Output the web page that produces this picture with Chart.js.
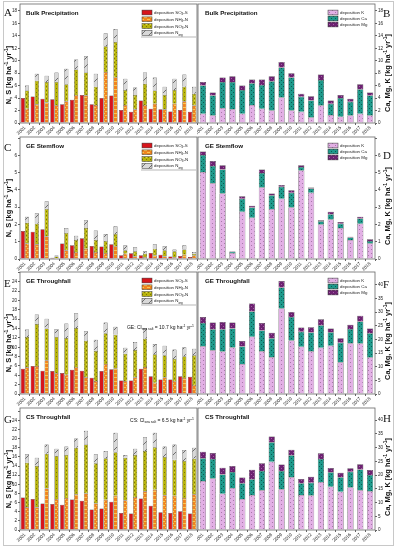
<!DOCTYPE html>
<html>
<head>
<meta charset="utf-8">
<script src="https://cdn.jsdelivr.net/npm/chart.js@4.4.1/dist/chart.umd.min.js"></script>
<style>
  body { margin: 0; background: #fff; }
  #fig { position: relative; width: 395px; height: 550px; overflow: hidden; }
  #fig canvas { position: absolute; }
  #border { position: absolute; left: 3px; top: 1px; width: 389px; height: 543px; border: 1px solid #c8c8c8; }
</style>
</head>
<body>
<div id="fig"><div id="border"></div></div>
<script>
const years = ['2001','2002','2003','2004','2005','2006','2007','2008','2009',
               '2010','2011','2012','2013','2014','2015','2016','2017','2018'];

// A - bulk precipitation, N and S
const aSO4  = [4.0, 4.25, 3.9, 3.8, 3.0, 3.75, 4.5, 3.0, 4.0, 4.4, 2.1, 1.8, 3.6, 2.3, 2.2, 1.85, 2.1, 1.8];
const aNH4  = [2.3, 3.0, 3.3, 2.9, 3.5, 4.5, 4.4, 2.9, 8.2, 7.4, 2.9, 2.2, 2.9, 3.1, 2.2, 3.1, 3.5, 2.8];
const aNO3  = [2.9, 3.8, 3.3, 3.7, 2.7, 4.1, 3.7, 2.9, 4.1, 5.6, 2.4, 2.3, 3.4, 2.1, 2.3, 2.2, 2.3, 1.9];
const aNorg = [0.8, 1.1, 1.0, 1.5, 2.5, 1.6, 2.6, 2.1, 2.1, 2.1, 1.8, 1.2, 1.8, 2.1, 1.3, 1.8, 2.0, 1.1];
// B - bulk precipitation, K Ca Mg
const bK  = [1.5, 1.2, 2.4, 2.2, 1.5, 2.9, 2.3, 2.0, 4.1, 2.0, 1.8, 0.9, 2.8, 1.3, 1.0, 1.2, 1.5, 1.2];
const bCa = [4.5, 3.2, 4.2, 4.4, 3.8, 3.5, 3.8, 4.7, 4.8, 5.3, 2.4, 2.7, 4.1, 1.8, 3.0, 2.2, 3.9, 3.2];
const bMg = [0.6, 0.5, 0.7, 0.9, 0.7, 0.6, 0.9, 0.8, 0.9, 0.7, 0.5, 0.7, 0.9, 0.5, 0.5, 0.5, 0.8, 0.5];
// C - GE stemflow, N and S
const cSO4  = [1.62, 1.58, 1.72, 0.07, 0.9, 0.8, 1.2, 0.75, 0.72, 0.85, 0.22, 0.33, 0.22, 0.35, 0.25, 0.15, 0.18, 0.12];
const cNH4  = [0.9, 0.85, 1.3, 0.05, 0.5, 0.4, 0.6, 0.4, 0.35, 0.75, 0.3, 0.15, 0.1, 0.2, 0.15, 0.1, 0.25, 0.2];
const cNO3  = [1.2, 1.2, 1.6, 0.1, 1.0, 0.7, 1.2, 0.7, 0.7, 0.7, 0.2, 0.3, 0.2, 0.4, 0.35, 0.35, 0.3, 0.1];
const cNorg = [0.35, 0.6, 0.45, 0.05, 0.3, 0.25, 0.45, 0.55, 0.4, 0.45, 0.3, 0.23, 0.15, 0.25, 0.25, 0.1, 0.25, 0.1];
// D - GE stemflow, K Ca Mg
const dK  = [5.05, 4.4, 3.8, 0.35, 2.75, 2.4, 4.15, 2.9, 3.5, 3.0, 5.15, 3.85, 2.0, 2.3, 1.8, 1.1, 2.05, 0.9];
const dCa = [1.0, 1.0, 1.4, 0.07, 0.75, 0.6, 0.85, 0.8, 0.7, 0.85, 0.2, 0.25, 0.2, 0.3, 0.25, 0.15, 0.3, 0.15];
const dMg = [0.2, 0.3, 0.25, 0.03, 0.15, 0.1, 0.2, 0.1, 0.1, 0.15, 0.1, 0.05, 0.05, 0.15, 0.1, 0.05, 0.1, 0.1];
// E - GE throughfall, N and S
const eSO4  = [5.4, 6.0, 5.0, 4.9, 4.5, 5.2, 5.0, 3.5, 4.9, 5.3, 2.9, 2.9, 5.4, 3.8, 3.1, 3.1, 3.8, 3.7];
const eNH4  = [5.7, 6.0, 7.2, 4.5, 4.1, 5.8, 3.6, 2.8, 6.4, 5.5, 2.8, 3.6, 5.8, 2.4, 3.6, 2.8, 3.4, 1.9];
const eNO3  = [6.5, 9.0, 6.8, 7.7, 7.9, 8.3, 7.8, 6.4, 6.6, 7.2, 5.8, 5.8, 6.0, 6.1, 4.7, 4.7, 4.7, 6.4];
const eNorg = [1.6, 2.0, 2.1, 1.7, 3.1, 3.2, 2.0, 2.4, 2.3, 1.7, 1.3, 1.7, 2.3, 2.2, 2.0, 2.0, 1.9, 1.4];
// F - GE throughfall, K Ca Mg
const fK  = [17.5, 16.0, 15.6, 17.0, 11.0, 21.0, 15.7, 13.5, 31.3, 19.6, 17.3, 15.7, 16.9, 17.7, 11.6, 18.6, 18.5, 13.4];
const fCa = [8.5, 7.7, 8.1, 7.0, 6.4, 9.2, 7.6, 6.9, 7.7, 8.6, 5.5, 6.8, 8.3, 4.9, 7.2, 5.2, 8.1, 8.9];
const fMg = [2.2, 2.5, 2.7, 2.2, 2.0, 3.0, 2.7, 2.0, 2.4, 1.8, 1.6, 2.0, 2.2, 1.4, 1.6, 1.6, 2.1, 1.7];
// G - CS throughfall, N and S
const gSO4  = [7.1, 6.8, 5.8, 5.7, 5.5, 6.7, 6.4, 4.5, 4.7, 6.2, 3.7, 3.6, 6.9, 5.3, 3.9, 3.7, 4.1, 3.6];
const gNH4  = [5.0, 4.9, 9.1, 6.8, 7.0, 7.8, 8.0, 5.8, 6.6, 7.5, 6.5, 7.2, 8.5, 8.8, 7.6, 7.5, 7.0, 7.8];
const gNO3  = [9.7, 9.1, 7.6, 9.4, 9.4, 10.2, 10.7, 8.8, 9.1, 9.5, 9.3, 9.2, 8.8, 9.3, 8.4, 7.9, 8.1, 7.8];
const gNorg = [1.9, 1.8, 2.0, 1.6, 1.9, 2.0, 3.0, 2.0, 1.6, 4.3, 0.6, 1.4, 3.0, 3.2, 2.3, 3.3, 2.4, 2.4];
// H - CS throughfall, K Ca Mg
const hK  = [17.8, 18.7, 13.2, 15.3, 11.3, 12.7, 14.5, 24.8, 14.8, 19.2, 12.7, 12.6, 17.5, 15.7, 13.9, 15.5, 14.5, 14.1];
const hCa = [8.3, 7.1, 7.0, 5.8, 5.7, 5.8, 7.0, 7.1, 6.7, 8.0, 4.3, 4.6, 8.3, 5.3, 5.3, 5.7, 7.5, 5.9];
const hMg = [2.4, 2.2, 2.5, 2.2, 2.1, 3.4, 2.8, 2.1, 2.3, 2.0, 1.6, 2.2, 2.1, 1.6, 1.6, 1.3, 1.9, 1.8];

const FONT = '"Liberation Sans", Arial, sans-serif';

// small repeating fills for the hatched bars
function pattern(bg, w, h, draw) {
  const c = document.createElement('canvas');
  c.width = w; c.height = h;
  const g = c.getContext('2d');
  g.fillStyle = bg;
  g.fillRect(0, 0, w, h);
  draw(g);
  return g.createPattern(c, 'repeat');
}

const fills = {
  so4: '#d7151c',
  nh4: pattern('#f0841f', 6, 4, g => { g.fillStyle = '#f8c750'; g.fillRect(0, 1, 3, 1); g.fillRect(3, 3, 3, 1); }),
  no3: pattern('#b8b40c', 4, 4, g => { g.fillStyle = '#7a7700'; g.fillRect(0, 0, 1, 1); g.fillRect(2, 2, 1, 1); g.fillStyle = '#d8d450'; g.fillRect(2, 0, 1, 1); }),
  norg: pattern('#d8d8d8', 8, 8, g => { g.fillStyle = '#6d6d6d'; for (let i = 0; i < 8; i++) g.fillRect(i, 7 - i, 1, 1); }),
  k: pattern('#e2b0e5', 6, 4, g => { g.fillStyle = '#a878aa'; g.fillRect(0, 0, 1, 1); g.fillRect(3, 2, 1, 1); }),
  ca: pattern('#1f9a8c', 4, 4, g => { g.fillStyle = '#0b5a50'; g.fillRect(0, 0, 1, 1); g.fillRect(2, 2, 1, 1); }),
  mg: pattern('#6c2270', 4, 4, g => { g.fillStyle = '#a55ca8'; g.fillRect(0, 0, 1, 1); g.fillRect(2, 2, 1, 1); })
};

const rows = [
  { top: 4, bottom: 123 },
  { top: 137, bottom: 259 },
  { top: 272, bottom: 394 },
  { top: 408, bottom: 530 }
];

const unitParts = [['[kg ha'], ['-1', 'sup'], [' yr'], ['-1', 'sup'], [']']];

const leftPanels = [
  { row: 0, letter: 'A', letterY: 16, title: 'Bulk Precipitation', data: [aSO4, aNH4, aNO3, aNorg], max: 19.1, step: 2, last: 18, legend: true },
  { row: 1, letter: 'C', letterY: 151, title: 'GE Stemflow', data: [cSO4, cNH4, cNO3, cNorg], max: 7.07, step: 1, last: 6, legend: true },
  { row: 2, letter: 'E', letterY: 287, title: 'GE Throughfall', data: [eSO4, eNH4, eNO3, eNorg], max: 26.1, step: 2, last: 24, legend: true,
    note: { y: 329, parts: [['GE: Cl'], ['sea salt', 'sub'], [' = 10.7 kg ha'], ['-1', 'sup'], [' yr'], ['-1', 'sup']] } },
  { row: 3, letter: 'G', letterY: 423, title: 'CS Throughfall', data: [gSO4, gNH4, gNO3, gNorg], max: 26.7, step: 2, last: 24, legend: false,
    note: { y: 422, parts: [['CS: Cl'], ['sea salt', 'sub'], [' = 6.5 kg ha'], ['-1', 'sup'], [' yr'], ['-1', 'sup']] } }
];

const rightPanels = [
  { row: 0, letter: 'B', letterY: 17, title: 'Bulk Precipitation', data: [bK, bCa, bMg], max: 19.1, step: 2, last: 18, legend: true },
  { row: 1, letter: 'D', letterY: 159, title: 'GE Stemflow', data: [dK, dCa, dMg], max: 7.09, step: 1, last: 6, legend: true },
  { row: 2, letter: 'F', letterY: 288, title: 'GE Throughfall', data: [fK, fCa, fMg], max: 44.7, step: 5, last: 40, legend: true },
  { row: 3, letter: 'H', letterY: 422, title: 'CS Throughfall', data: [hK, hCa, hMg], max: 44.4, step: 5, last: 40, legend: false }
];

const nLegend = [
  [fills.so4, [['deposition SO'], ['4', 'sub'], ['-S']]],
  [fills.nh4, [['deposition NH'], ['4', 'sub'], ['-N']]],
  [fills.no3, [['deposition NO'], ['3', 'sub'], ['-N']]],
  [fills.norg, [['deposition N'], ['org', 'sub']]]
];
const cLegend = [
  [fills.k, [['deposition K']]],
  [fills.ca, [['deposition Ca']]],
  [fills.mg, [['deposition Mg']]]
];

// text with sub/superscript pieces
function rich(ctx, x, y, parts, size, bold, align) {
  const font = s => (bold ? 'bold ' : '') + s + 'px ' + FONT;
  let w = 0;
  for (const [t, m] of parts) { ctx.font = font(m ? size * 0.68 : size); w += ctx.measureText(t).width; }
  let cx = align === 'right' ? x - w : align === 'center' ? x - w / 2 : x;
  for (const [t, m] of parts) {
    ctx.font = font(m ? size * 0.68 : size);
    const dy = m === 'sub' ? size * 0.28 : m === 'sup' ? -size * 0.4 : 0;
    ctx.fillText(t, cx, y + dy);
    cx += ctx.measureText(t).width;
  }
}

function decoPlugin(p, side, canvasTop, canvasLeft) {
  return {
    id: 'deco',
    afterDraw(chart) {
      const ctx = chart.ctx;
      const a = chart.chartArea;
      ctx.save();
      ctx.textBaseline = 'alphabetic';
      ctx.fillStyle = '#111';
      // frame
      ctx.strokeStyle = '#666';
      ctx.lineWidth = 0.8;
      ctx.strokeRect(a.left, a.top, a.right - a.left, a.bottom - a.top);
      // panel letter
      ctx.font = '11px "Liberation Serif", "Times New Roman", serif';
      ctx.fillText(p.letter, side === 'left' ? 4 - canvasLeft : 383 - canvasLeft, p.letterY - canvasTop);
      // panel title
      rich(ctx, a.left + (side === 'left' ? 6 : 7), a.top + 11, [[p.title]], 6.2, true, 'left');
      // axis title
      const tx = side === 'left' ? 8 : 387 - canvasLeft;
      const ty = a.top + (side === 'left' ? 71 : 69);
      ctx.save();
      ctx.translate(tx, ty);
      ctx.rotate(-Math.PI / 2);
      const lead = side === 'left' ? 'N, S ' : 'Ca, Mg, K ';
      rich(ctx, 0, 2.6, [[lead]].concat(unitParts), 7.4, true, 'center');
      ctx.restore();
      // legend
      if (p.legend) {
        const items = side === 'left' ? nLegend : cLegend;
        const sx = side === 'left' ? 142 : 328 - canvasLeft;
        const pitch = side === 'left' ? 6.8 : 6.0;
        items.forEach(([fill, parts], i) => {
          const cy = a.top + 8.5 + pitch * i;
          ctx.fillStyle = fill;
          ctx.fillRect(sx, cy - 2.4, 10, 4.8);
          ctx.strokeStyle = '#333';
          ctx.lineWidth = 0.5;
          ctx.strokeRect(sx, cy - 2.4, 10, 4.8);
          ctx.fillStyle = '#222';
          rich(ctx, sx + 12, cy + 1.5, parts, 4.4, false, 'left');
        });
        if (side === 'left') {
          ctx.strokeStyle = '#888';
          ctx.lineWidth = 0.6;
          ctx.beginPath();
          ctx.moveTo(141, a.top + 33);
          ctx.lineTo(a.right - 1, a.top + 33);
          ctx.stroke();
        }
      }
      // sea salt note
      if (p.note) {
        ctx.fillStyle = '#111';
        rich(ctx, a.right - 3, p.note.y - canvasTop, p.note.parts, 5, false, 'right');
      }
      ctx.restore();
    }
  };
}

function makePanel(p, side) {
  const r = rows[p.row];
  const c = document.createElement('canvas');
  const top = r.top - 4;
  const h = (r.bottom - r.top) + 4 + 14;
  const left = side === 'left' ? 0 : 197;
  c.width = 198; c.height = h;
  c.style.left = left + 'px';
  c.style.top = top + 'px';
  document.getElementById('fig').appendChild(c);

  let datasets;
  if (side === 'left') {
    const [so4, nh4, no3, norg] = p.data;
    datasets = [
      { label: 'deposition SO4-S', data: so4, backgroundColor: fills.so4, stack: 's' },
      { label: 'deposition NH4-N', data: nh4, backgroundColor: fills.nh4, stack: 'n' },
      { label: 'deposition NO3-N', data: no3, backgroundColor: fills.no3, stack: 'n' },
      { label: 'deposition Norg', data: norg, backgroundColor: fills.norg, stack: 'n' }
    ];
  } else {
    const [k, ca, mg] = p.data;
    datasets = [
      { label: 'deposition K', data: k, backgroundColor: fills.k, stack: 'm' },
      { label: 'deposition Ca', data: ca, backgroundColor: fills.ca, stack: 'm' },
      { label: 'deposition Mg', data: mg, backgroundColor: fills.mg, stack: 'm' }
    ];
  }
  datasets.forEach(d => {
    d.borderColor = '#2a2a2a';
    d.borderWidth = 0.5;
    d.categoryPercentage = side === 'left' ? 0.84 : 0.63;
    d.barPercentage = 1.0;
  });

  new Chart(c, {
    type: 'bar',
    data: { labels: years, datasets },
    options: {
      responsive: false,
      animation: false,
      devicePixelRatio: 1,
      layout: { autoPadding: false, padding: { top: 4, left: side === 'left' ? 0 : 1, right: side === 'left' ? 1 : 0, bottom: 0 } },
      plugins: { legend: { display: false }, tooltip: { enabled: false } },
      scales: {
        x: {
          stacked: true,
          grid: { drawOnChartArea: false, tickLength: 2, color: '#666' },
          border: { display: false },
          ticks: { font: { size: 4.6, family: FONT }, color: '#222', minRotation: 45, maxRotation: 45, padding: 0, autoSkip: false },
          afterFit(s) { s.height = 14; s.paddingLeft = 0; s.paddingRight = 0; }
        },
        y: {
          stacked: true,
          position: side === 'left' ? 'left' : 'right',
          min: 0,
          max: p.max,
          grid: { drawOnChartArea: false, tickLength: 2, color: '#666' },
          border: { display: false },
          ticks: {
            stepSize: p.step,
            includeBounds: false,
            font: { size: 4.6, family: FONT },
            color: '#222',
            padding: 1,
            callback: v => (v > p.last ? '' : v)
          },
          afterFit(s) { s.width = 20; s.paddingTop = 0; s.paddingBottom = 0; }
        }
      }
    },
    plugins: [decoPlugin(p, side, top, left)]
  });
}

leftPanels.forEach(p => makePanel(p, 'left'));
rightPanels.forEach(p => makePanel(p, 'right'));
</script>
</body>
</html>
